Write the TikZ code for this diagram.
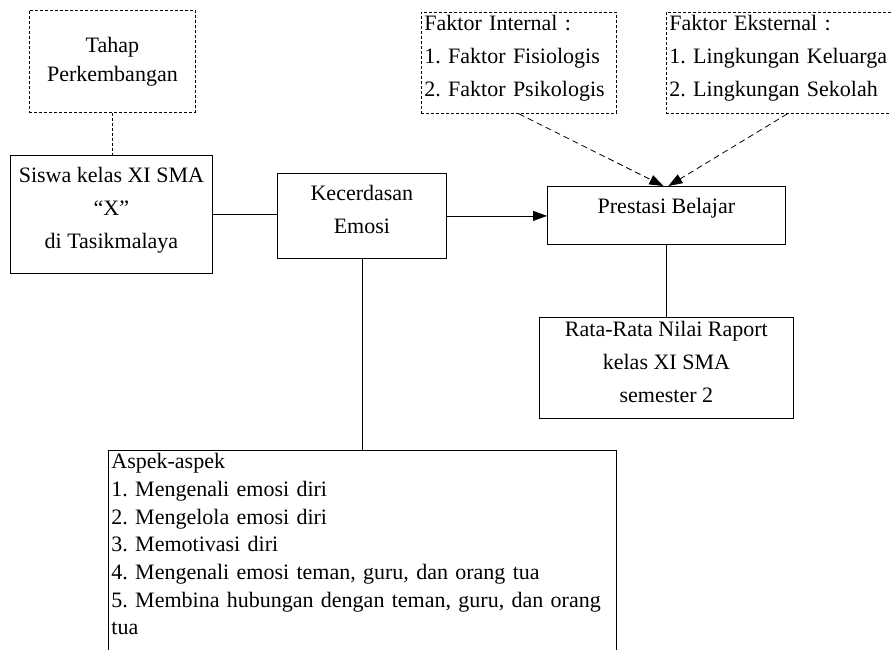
\documentclass[tikz,border=0pt]{standalone}
\usepackage{fontspec}
\setmainfont{Liberation Serif}
\usetikzlibrary{arrows.meta}
\newcommand{\ganjal}[1]{\rule[-#1]{0pt}{#1}}
\frenchspacing

\begin{document}
\begin{tikzpicture}[x=1pt, y=-1pt,
        kotak/.style={draw, line width=0.8pt, anchor=north west, inner sep=0pt,
            align=center, font=\fontsize{22}{33}\selectfont},
        kotakputus/.style={kotak, dash pattern=on 3pt off 2pt},
        daftar/.style={align=left, inner xsep=3pt},
        garis/.style={line width=0.8pt},
        panah/.style={garis, -{Triangle[length=14pt,width=10pt]}},
        panahputus/.style={panah, dash pattern=on 6pt off 4pt}]
    \useasboundingbox (0,0) rectangle (891,649);
    \node[kotakputus, minimum width=166pt, minimum height=102pt,
        font=\fontsize{22}{29}\selectfont] (tahap) at (29,10)
        {Tahap\\Perkembangan};
    \node[kotak, minimum width=202pt, minimum height=118pt] (siswa) at (10,155)
        {Siswa kelas XI SMA\\“X”\\di Tasikmalaya\ganjal{13pt}};
    \node[kotak, minimum width=169pt, minimum height=85pt] (kecerdasan) at (277,173)
        {Kecerdasan\\Emosi\ganjal{14pt}};
    \node[kotak, minimum width=238pt, minimum height=58pt] (prestasi) at (547,186)
        {Prestasi Belajar\ganjal{19pt}};
    \node[kotak, minimum width=254pt, minimum height=101pt] (rata) at (539,317)
        {Rata-Rata Nilai Raport\\kelas XI SMA\\semester 2\ganjal{12pt}};
    \node[kotakputus, daftar, text width=189pt, minimum height=101pt] (internal) at (421,12)
        {Faktor Internal :\\1. Faktor Fisiologis\\2. Faktor Psikologis\ganjal{14pt}};
    \node[kotakputus, daftar, text width=236pt, minimum height=101pt] (eksternal) at (666,12)
        {Faktor Eksternal :\\1. Lingkungan Keluarga\\2. Lingkungan Sekolah\ganjal{14pt}};
    \node[kotak, daftar, text width=502pt, inner ysep=3pt,
        font=\fontsize{22}{27.7}\selectfont] (aspek) at (108,450)
        {Aspek-aspek\\1. Mengenali emosi diri\\2. Mengelola emosi diri\\3. Memotivasi diri\\
        4. Mengenali emosi teman, guru, dan orang tua\\
        5. Membina hubungan dengan teman, guru, dan orang\\tua\ganjal{60pt}};

    \draw[garis, dash pattern=on 3pt off 2pt] (tahap.south) -- (tahap.south |- siswa.north);
    \draw[garis] (siswa.east) -- (siswa.east -| kecerdasan.west);
    \draw[panah] (kecerdasan.east) -- (kecerdasan.east -| prestasi.west);
    \draw[panahputus] (internal.south) -- ([xshift=-3pt]prestasi.north);
    \draw[panahputus] (eksternal.south) -- ([xshift=2pt]prestasi.north);
    \draw[garis] (prestasi.south) -- (rata.north);
    \draw[garis] (kecerdasan.south) -- (kecerdasan.south |- aspek.north);
\end{tikzpicture}
\end{document}
